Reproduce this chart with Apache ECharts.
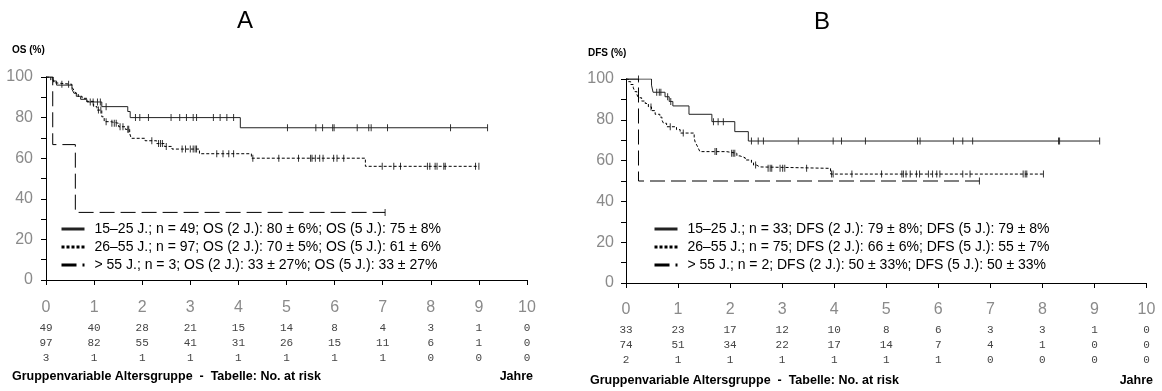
<!DOCTYPE html>
<html>
<head>
<meta charset="utf-8">
<script src="https://cdn.jsdelivr.net/npm/echarts@6/dist/echarts.min.js"></script>
<style>
  html, body { margin: 0; padding: 0; background: #fff; }
  #chart { width: 1162px; height: 391px; }
</style>
</head>
<body>
<div id="chart"></div>
<script>
// x axis ticks (years)
const years = [0, 1, 2, 3, 4, 5, 6, 7, 8, 9, 10];

// No. at risk, panel A (OS)
const riskA1 = [49, 40, 28, 21, 15, 14, 8, 4, 3, 1, 0];
const riskA2 = [97, 82, 55, 41, 31, 26, 15, 11, 6, 1, 0];
const riskA3 = [3, 1, 1, 1, 1, 1, 1, 1, 0, 0, 0];
// No. at risk, panel B (DFS)
const riskB1 = [33, 23, 17, 12, 10, 8, 6, 3, 3, 1, 0];
const riskB2 = [74, 51, 34, 22, 17, 14, 7, 4, 1, 0, 0];
const riskB3 = [2, 1, 1, 1, 1, 1, 1, 0, 0, 0, 0];

const namesA = [
  '15\u201325 J.; n = 49; OS (2 J.): 80 \u00b1 6%; OS (5 J.): 75 \u00b1 8%',
  '26\u201355 J.; n = 97; OS (2 J.): 70 \u00b1 5%; OS (5 J.): 61 \u00b1 6%',
  '> 55 J.; n = 3; OS (2 J.): 33 \u00b1 27%; OS (5 J.): 33 \u00b1 27%'
];
const namesB = [
  '15\u201325 J.; n = 33; DFS (2 J.): 79 \u00b1 8%; DFS (5 J.): 79 \u00b1 8%',
  '26\u201355 J.; n = 75; DFS (2 J.): 66 \u00b1 6%; DFS (5 J.): 55 \u00b1 7%',
  '> 55 J.; n = 2; DFS (2 J.): 50 \u00b1 33%; DFS (5 J.): 50 \u00b1 33%'
];

// Kaplan-Meier steps [years, %] - OS
const osYoung = [[0,100],[0.15,98],[0.22,96],[0.54,94],[0.58,92],[0.63,90.5],[0.72,89],[0.85,87.7],[1.16,85.4],[1.7,83],[1.75,80],[4.04,75],[9.18,75]];
const osMid = [[0,100],[0.1,98.5],[0.16,97.2],[0.2,96.4],[0.54,95],[0.58,93.5],[0.62,92],[0.67,90.5],[0.75,89.5],[0.85,88],[0.99,85.4],[1.06,83.7],[1.16,80.4],[1.21,78],[1.34,77.2],[1.51,75.5],[1.65,74.2],[1.74,72.3],[1.77,69.8],[2.06,68.6],[2.3,67.2],[2.46,65.8],[2.62,64.5],[3.19,62.2],[4.27,60],[6.64,56],[9.0,56]];
const osOld = [[0,100],[0.14,66.7],[0.61,33.3],[7.05,33.3]];
// censored times - OS
const osYoungCens = [0.92,0.98,1.07,1.13,1.25,1.86,1.95,2.13,2.6,2.78,2.92,3.06,3.13,3.48,3.62,3.76,3.9,5.02,5.61,5.75,5.96,5.99,6.47,6.71,6.76,7.1,8.41,9.18];
const osMidCens = [0.33,0.47,1.09,1.14,1.25,1.37,1.42,1.46,1.54,1.6,1.7,1.72,2.2,2.34,2.38,2.42,2.5,2.83,2.9,3.0,3.06,3.1,3.13,3.55,3.68,3.8,3.9,4.3,4.84,5.25,5.5,5.53,5.6,5.69,5.76,5.98,6.05,6.19,6.99,7.23,7.37,7.93,7.98,8.09,8.13,8.27,8.3,8.93,9.0];
const osOldCens = [7.05];

// Kaplan-Meier steps [years, %] - DFS
const dfsYoung = [[0,100],[0.49,97],[0.52,93.5],[0.75,91.3],[0.83,89],[0.9,86.8],[1.21,82.7],[1.65,79.1],[2.09,74.2],[2.35,69.6],[9.1,69.6]];
const dfsMid = [[0,100],[0.045,98.7],[0.09,97.3],[0.14,95.7],[0.17,93.8],[0.21,92.3],[0.24,90.8],[0.3,89.2],[0.37,88],[0.43,86.3],[0.49,84.5],[0.56,82.7],[0.65,81.3],[0.69,79.9],[0.72,78.3],[0.78,76.6],[0.97,75.2],[1.04,73.5],[1.31,71],[1.33,69],[1.36,67.6],[1.39,66],[1.42,64.4],[1.93,63.6],[2.13,62.3],[2.19,61.4],[2.29,60.3],[2.41,59],[2.45,57.8],[2.51,56.9],[2.57,56.2],[3.93,53.4],[8.02,53.4]];
const dfsOld = [[0,100],[0.24,50],[6.79,50]];
// censored times - DFS
const dfsYoungCens = [0.24,0.59,0.64,0.67,0.8,0.86,1.68,1.77,1.87,2.41,2.54,2.64,3.31,3.98,4.14,4.6,5.6,5.65,6.29,6.47,6.66,8.31,8.33,9.1];
const dfsMidCens = [0.48,0.85,1.1,1.71,1.74,2.03,2.06,2.09,2.49,2.73,2.77,2.8,2.96,3.01,3.05,3.47,3.95,3.98,4.34,4.91,5.3,5.33,5.38,5.46,5.58,5.64,5.81,5.89,5.97,6.03,6.47,6.61,7.63,7.67,7.7,8.02];
const dfsOldCens = [6.79];

const tickFont = "'Liberation Sans Narrow', 'Liberation Sans', sans-serif";
const monoFont = "'Liberation Mono', 'DejaVu Sans Mono', monospace";
const styles = [
  { color: '#222', type: 'solid' },
  { color: '#000', type: [3, 2] },
  { color: '#000', type: [15, 6] }
];

// survival level at time t
function survAt(curve, t) {
  let s = curve[0][1];
  for (const p of curve) { if (p[0] <= t) s = p[1]; }
  return s;
}

function xAxisFor(idx, offset, r1, r2, r3) {
  return {
    type: 'value', gridIndex: idx, min: 0, max: 10, interval: 1, offset: offset,
    axisLine: { lineStyle: { color: '#000', width: 1 } },
    axisTick: { length: 5, lineStyle: { color: '#000' } },
    splitLine: { show: false },
    axisLabel: {
      margin: 5,
      formatter: v => `{t|${v}}\n{r|${r1[v]}}\n{r|${r2[v]}}\n{r|${r3[v]}}`,
      rich: {
        t: { fontSize: 16, fontFamily: tickFont, color: '#8a8a8a', lineHeight: 25 },
        r: { fontSize: 11, fontFamily: monoFont, color: '#444', lineHeight: 15.3 }
      }
    }
  };
}

function yAxisFor(idx, offset) {
  return {
    type: 'value', gridIndex: idx, min: 0, max: 100, interval: 20, offset: offset,
    axisLine: { show: true, lineStyle: { color: '#000', width: 1 } },
    axisTick: { show: true, length: 5, lineStyle: { color: '#000' } },
    minorTick: { show: true, splitNumber: 2, length: 5, lineStyle: { color: '#000' } },
    splitLine: { show: false },
    axisLabel: { margin: 8, fontSize: 16, fontFamily: tickFont, color: '#8a8a8a' }
  };
}

function panelSeries(idx, names, curves, cens) {
  const out = [];
  curves.forEach((c, i) => {
    out.push({
      name: names[i], type: 'line', step: 'end', xAxisIndex: idx, yAxisIndex: idx,
      data: c, symbol: 'none', silent: true, animation: false,
      lineStyle: { color: styles[i].color, width: 1, type: styles[i].type },
      itemStyle: { color: styles[i].color }
    });
    out.push({
      type: 'scatter', xAxisIndex: idx, yAxisIndex: idx, silent: true, animation: false,
      data: cens[i].map(t => [t, survAt(c, t)]),
      symbol: 'rect', symbolSize: [1, 7], itemStyle: { color: '#000' }
    });
  });
  return out;
}

function legendFor(left, names) {
  return {
    left: left, top: 217, orient: 'vertical', itemWidth: 23, itemHeight: 14, itemGap: 4,
    selectedMode: false, data: names,
    itemStyle: { opacity: 0 },
    lineStyle: { width: 3 },
    textStyle: { fontSize: 14, color: '#000', fontFamily: 'Liberation Sans', padding: [0, 0, 0, 5] }
  };
}

const chart = echarts.init(document.getElementById('chart'), null, { renderer: 'canvas' });

const textBold = (txt, x, y, size, align) => ({
  type: 'text', x: x, y: y,
  style: { text: txt, fill: '#000', font: `bold ${size}px 'Liberation Sans', Arial, sans-serif`, align: align || 'left', verticalAlign: 'middle' }
});
const textPlain = (txt, x, y, size) => ({
  type: 'text', x: x, y: y,
  style: { text: txt, fill: '#000', font: `${size}px 'Liberation Sans', Arial, sans-serif`, align: 'center', verticalAlign: 'middle' }
});

chart.setOption({
  animation: false,
  backgroundColor: '#fff',
  grid: [
    { left: 46, top: 77, width: 481, height: 203 },
    { left: 626, top: 79, width: 520.5, height: 204 }
  ],
  xAxis: [xAxisFor(0, 10, riskA1, riskA2, riskA3), xAxisFor(1, 9, riskB1, riskB2, riskB3)],
  yAxis: [yAxisFor(0, 5), yAxisFor(1, 4)],
  legend: [legendFor(55, namesA), legendFor(648, namesB)],
  series: [
    ...panelSeries(0, namesA, [osYoung, osMid, osOld], [osYoungCens, osMidCens, osOldCens]),
    ...panelSeries(1, namesB, [dfsYoung, dfsMid, dfsOld], [dfsYoungCens, dfsMidCens, dfsOldCens])
  ],
  graphic: [
    textPlain('A', 245, 21, 24),
    textPlain('B', 822, 22, 24),
    textBold('OS (%)', 12, 50, 10),
    textBold('DFS (%)', 588, 53, 10),
    textBold('Gruppenvariable Altersgruppe  -  Tabelle: No. at risk', 12, 377, 12.5),
    textBold('Jahre', 533, 377, 12.5, 'right'),
    textBold('Gruppenvariable Altersgruppe  -  Tabelle: No. at risk', 590, 381, 12.5),
    textBold('Jahre', 1153, 381, 12.5, 'right')
  ]
});
</script>
</body>
</html>
